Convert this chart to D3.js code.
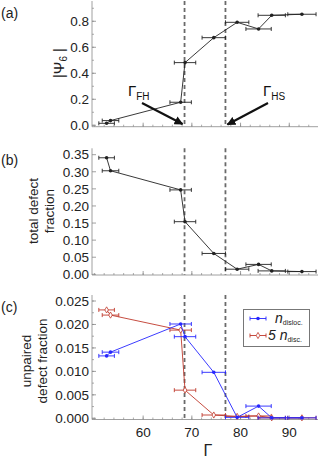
<!DOCTYPE html>
<html>
<head>
<meta charset="utf-8">
<script src="https://cdn.jsdelivr.net/npm/d3@7"></script>
<style>
  body { margin: 0; background: #fff; }
  svg { display: block; font-family: "Liberation Sans", Arial, sans-serif; }
</style>
</head>
<body>
<svg id="chart" width="321" height="459"></svg>
<script>
// data
const gamma = [52.5, 53.3, 67.7, 68.6, 74.5, 79.3, 83.7, 86.4, 92.6];
const gammaErr = [1.6, 1.7, 2.2, 2.2, 2.4, 2.4, 2.6, 2.8, 2.9];
const psi6 = [0.015, 0.036, 0.177, 0.482, 0.674, 0.792, 0.741, 0.846, 0.854];
const totalDefect = [0.341, 0.303, 0.247, 0.154, 0.061, 0.015, 0.029, 0.010, 0.008];
const nDisloc = [0.0133, 0.0141, 0.0201, 0.0174, 0.0098, 0.0002, 0.0026, 0.0001, 0.0001];
const nDisc5 = [0.0231, 0.0220, 0.0188, 0.0060, 0.0007, 0.0004, 0.0005, 0.0001, 0.0001];
const transitions = [68.5, 76.9];
const xTicks = [60, 70, 80, 90];

const svg = d3.select('#chart');
const left = 92, right = 318;

const x = d3.scaleLinear().domain([49.5, 95.9]).range([left, right]);

const panels = [
    { label: '(a)', top: 1, bottom: 126.7, domain: [-0.011, 0.956],
      major: d3.range(0, 0.81, 0.2), minor: d3.range(0, 0.95, 0.1), fmt: d3.format('.1f') },
    { label: '(b)', top: 148.3, bottom: 275, domain: [-0.002, 0.3687],
      major: d3.range(0, 0.351, 0.05), minor: [], fmt: d3.format('.2f') },
    { label: '(c)', top: 295, bottom: 419.5, domain: [-0.000256, 0.02628],
      major: d3.range(0, 0.0251, 0.005), minor: d3.range(0, 0.026, 0.0025), fmt: d3.format('.3f') }
];

panels.forEach(p => {
    p.y = d3.scaleLinear().domain(p.domain).range([p.bottom, p.top]);
    const g = svg.append('g');

    // dashed transition lines
    transitions.forEach(t => {
        g.append('line')
            .attr('x1', x(t)).attr('x2', x(t))
            .attr('y1', p.top).attr('y2', p.bottom)
            .attr('stroke', '#6a6a6a').attr('stroke-width', 1.8)
            .attr('stroke-dasharray', '4,3');
    });

    // axes lines
    g.append('line').attr('x1', left).attr('x2', left).attr('y1', p.top).attr('y2', p.bottom)
        .attr('stroke', '#888').attr('stroke-width', 0.8);
    g.append('line').attr('x1', left).attr('x2', right).attr('y1', p.bottom).attr('y2', p.bottom)
        .attr('stroke', '#888').attr('stroke-width', 0.8);

    // y ticks
    g.selectAll('.ymin').data(p.minor).enter().append('line')
        .attr('x1', left).attr('x2', left + 2)
        .attr('y1', d => p.y(d)).attr('y2', d => p.y(d))
        .attr('stroke', '#888').attr('stroke-width', 0.7);
    g.selectAll('.ymaj').data(p.major).enter().append('line')
        .attr('x1', left).attr('x2', left + 4)
        .attr('y1', d => p.y(d)).attr('y2', d => p.y(d))
        .attr('stroke', '#888').attr('stroke-width', 0.8);
    g.selectAll('.ylab').data(p.major).enter().append('text')
        .attr('x', left - 3).attr('y', d => p.y(d))
        .attr('dy', '0.35em').attr('text-anchor', 'end')
        .attr('font-size', 13.5).attr('fill', '#222')
        .text(d => p.fmt(d));

    // x ticks
    const xMinor = d3.range(50, 96, 2);
    g.selectAll('.xmin').data(xMinor).enter().append('line')
        .attr('x1', d => x(d)).attr('x2', d => x(d))
        .attr('y1', p.bottom).attr('y2', p.bottom - 2)
        .attr('stroke', '#888').attr('stroke-width', 0.7);
    g.selectAll('.xmaj').data(xTicks).enter().append('line')
        .attr('x1', d => x(d)).attr('x2', d => x(d))
        .attr('y1', p.bottom).attr('y2', p.bottom - 4)
        .attr('stroke', '#888').attr('stroke-width', 0.8);

    g.append('text').attr('x', 1).attr('y', p.top + 17)
        .attr('font-size', 14).attr('fill', '#222').text(p.label);
});

// x tick labels on the bottom panel only
const pc = panels[2];
svg.selectAll('.xlab').data(xTicks).enter().append('text')
    .attr('x', d => x(d)).attr('y', pc.bottom + 17)
    .attr('text-anchor', 'middle').attr('font-size', 13.5).attr('fill', '#222')
    .text(d => d);
svg.append('text').attr('x', 208).attr('y', 456)
    .attr('text-anchor', 'middle').attr('font-size', 16).attr('fill', '#222').text('Γ');

// series drawing helper
function drawSeries(panel, vals, color, marker) {
    const g = svg.append('g');
    const pts = gamma.map((gv, i) => ({ g: gv, e: gammaErr[i], v: vals[i] }));
    const line = d3.line().x(d => x(d.g)).y(d => panel.y(d.v));
    g.append('path').datum(pts).attr('d', line)
        .attr('fill', 'none').attr('stroke', color).attr('stroke-width', 0.9);
    pts.forEach(d => {
        const yy = panel.y(d.v);
        g.append('line').attr('x1', x(d.g - d.e)).attr('x2', x(d.g + d.e))
            .attr('y1', yy).attr('y2', yy).attr('stroke', color).attr('stroke-width', 0.9);
        [d.g - d.e, d.g + d.e].forEach(c => {
            g.append('line').attr('x1', x(c)).attr('x2', x(c))
                .attr('y1', yy - 2).attr('y2', yy + 2)
                .attr('stroke', color).attr('stroke-width', 0.9);
        });
        if (marker === 'diamond') {
            g.append('path').attr('d', d3.symbol(d3.symbolDiamond, 11)())
                .attr('transform', `translate(${x(d.g)},${yy})`)
                .attr('fill', '#fff').attr('stroke', color).attr('stroke-width', 0.8);
        } else {
            g.append('circle').attr('cx', x(d.g)).attr('cy', yy).attr('r', 1.8).attr('fill', color);
        }
    });
}

const blue = '#2626ff';
const red = '#c0392b';
drawSeries(panels[0], psi6, '#222', 'dot');
drawSeries(panels[1], totalDefect, '#222', 'dot');
drawSeries(panels[2], nDisc5, red, 'diamond');
drawSeries(panels[2], nDisloc, blue, 'dot');

// y axis titles
function yTitle(cx, cy, lines) {
    const t = svg.append('text')
        .attr('transform', `translate(${cx},${cy}) rotate(-90)`)
        .attr('text-anchor', 'middle').attr('font-size', 13.5).attr('fill', '#222');
    lines.forEach((l, i) => {
        t.append('tspan').attr('x', 0).attr('dy', i === 0 ? 0 : '1.2em').text(l);
    });
}
yTitle(38, 211, ['total defect', 'fraction']);
yTitle(31, 361, ['unpaired', 'defect fraction']);

const psiLab = svg.append('text')
    .attr('transform', 'translate(64,63) rotate(-90)')
    .attr('text-anchor', 'middle').attr('font-size', 15).attr('fill', '#222');
psiLab.append('tspan').text('|Ψ');
psiLab.append('tspan').attr('font-size', 10).attr('dy', 3).text('6');
psiLab.append('tspan').attr('dy', -3).text(' |');

// arrows with labels in panel (a)
svg.append('defs').append('marker')
    .attr('id', 'arr').attr('viewBox', '0 0 10 10').attr('refX', 9).attr('refY', 5)
    .attr('markerWidth', 4).attr('markerHeight', 4).attr('orient', 'auto')
    .append('path').attr('d', 'M0,0L10,5L0,10z').attr('fill', '#111');

function gammaLabel(px, py, sub) {
    const t = svg.append('text').attr('x', px).attr('y', py)
        .attr('font-size', 15).attr('fill', '#111');
    t.append('tspan').text('Γ');
    t.append('tspan').attr('font-size', 10).attr('dy', 4).text(sub);
}
gammaLabel(128, 96, 'FH');
gammaLabel(263, 96, 'HS');

svg.append('line').attr('x1', 142).attr('y1', 103).attr('x2', x(transitions[0]) - 2).attr('y2', 124)
    .attr('stroke', '#111').attr('stroke-width', 2.2).attr('marker-end', 'url(#arr)');
svg.append('line').attr('x1', 268).attr('y1', 103).attr('x2', x(transitions[1]) + 2).attr('y2', 124.5)
    .attr('stroke', '#111').attr('stroke-width', 2.2).attr('marker-end', 'url(#arr)');

// legend in panel (c)
const lg = svg.append('g');
lg.append('rect').attr('x', 243.5).attr('y', 309.5).attr('width', 66).attr('height', 37)
    .attr('fill', '#fff').attr('stroke', '#777').attr('stroke-width', 1);
const legendItems = [
    { color: blue, marker: 'dot', pre: 'n', sub: 'disloc.', y: 318.5 },
    { color: red, marker: 'diamond', pre: '5 n', sub: 'disc.', y: 335.5 }
];
legendItems.forEach(it => {
    lg.append('line').attr('x1', 250).attr('x2', 266).attr('y1', it.y).attr('y2', it.y)
        .attr('stroke', it.color).attr('stroke-width', 0.9);
    [250, 266].forEach(c => lg.append('line').attr('x1', c).attr('x2', c)
        .attr('y1', it.y - 2).attr('y2', it.y + 2).attr('stroke', it.color).attr('stroke-width', 0.9));
    if (it.marker === 'dot') {
        lg.append('circle').attr('cx', 258).attr('cy', it.y).attr('r', 1.8).attr('fill', it.color);
    } else {
        lg.append('path').attr('d', d3.symbol(d3.symbolDiamond, 11)())
            .attr('transform', `translate(258,${it.y})`)
            .attr('fill', '#fff').attr('stroke', it.color).attr('stroke-width', 0.8);
    }
    const t = lg.append('text').attr('x', it.pre === 'n' ? 275 : 268).attr('y', it.y + 4)
        .attr('font-size', 14).attr('font-style', 'italic').attr('fill', '#222');
    t.append('tspan').text(it.pre);
    t.append('tspan').attr('font-size', 7).attr('font-style', 'normal').attr('dy', 2).text(it.sub);
});
</script>
</body>
</html>
